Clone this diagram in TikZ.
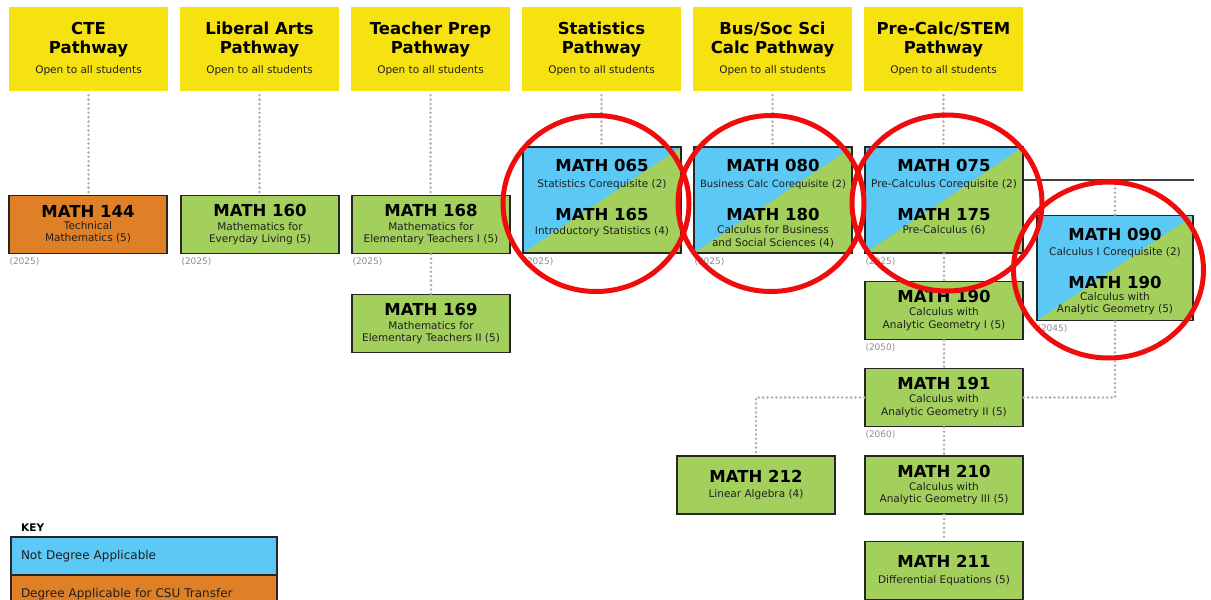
\documentclass[tikz,border=0pt]{standalone}
\usepackage{fontspec}
\setmainfont{DejaVu Sans}

\definecolor{pathyellow}{RGB}{246,226,17}
\definecolor{crsgreen}{RGB}{163,207,92}
\definecolor{crsblue}{RGB}{91,200,245}
\definecolor{crsorange}{RGB}{224,128,38}
\definecolor{linkgray}{RGB}{175,175,175}
\definecolor{ringred}{RGB}{240,12,12}

\newcommand{\ctitle}{\fontsize{16.5}{18}\selectfont\bfseries\color{black}}
\newcommand{\htitle}{\fontsize{16.5}{18}\selectfont\bfseries\color{black}}

\begin{document}
\begin{tikzpicture}[x=1pt, y=-1pt,
    every node/.style={font=\fontsize{10.5}{12.5}\selectfont, text=black!88},
    hd/.style={fill=pathyellow, minimum width=159pt, minimum height=84pt,
               align=center, inner sep=0pt, font=\fontsize{10.5}{18.7}\selectfont},
    crs/.style={draw=black!85, line width=1.4pt, fill=crsgreen, minimum width=158pt,
                minimum height=58pt, align=center, inner sep=0pt},
    tcrs/.style={crs, fill=crsorange},
    sp/.style={crs, minimum height=106pt,
               path picture={\fill[crsblue] (path picture bounding box.north west)
                 -- (path picture bounding box.north east)
                 -- (path picture bounding box.south west) -- cycle;}},
    sptxt/.style={align=center, anchor=north, inner sep=0pt},
    yr/.style={font=\fontsize{9}{10}\selectfont, text=black!45, anchor=north west, inner sep=0pt},
    lnk/.style={draw=linkgray, line width=2.8pt, line cap=round, dash pattern=on 0pt off 4.4pt},
    bar/.style={draw=black!75, line width=1.6pt},
    keyrow/.style={draw=black!85, line width=1.4pt, minimum height=38pt, text width=246pt,
                   inner xsep=10pt, inner ysep=0pt, align=left, font=\fontsize{12}{14}\selectfont},
    ring/.style={draw=ringred, line width=5pt},
  ]
  \useasboundingbox (0,0) rectangle (1211,600);

  % pathway headers
  \node[hd] (cte)  at (88.5, 49)  {{\htitle CTE}\\{\htitle Pathway}\\[2pt]Open to all students};
  \node[hd] (lib)  at (259.5, 49) {{\htitle Liberal Arts}\\{\htitle Pathway}\\[2pt]Open to all students};
  \node[hd] (tch)  at (430.5, 49) {{\htitle Teacher Prep}\\{\htitle Pathway}\\[2pt]Open to all students};
  \node[hd] (sta)  at (601.5, 49) {{\htitle Statistics}\\{\htitle Pathway}\\[2pt]Open to all students};
  \node[hd] (bus)  at (772.5, 49) {{\htitle Bus/Soc Sci}\\{\htitle Calc Pathway}\\[2pt]Open to all students};
  \node[hd] (stem) at (943.5, 49) {{\htitle Pre-Calc/STEM}\\{\htitle Pathway}\\[2pt]Open to all students};

  % courses
  \node[tcrs] (m144) at (88, 224.5)  {{\ctitle MATH 144}\\[-1pt]Technical\\Mathematics (5)};
  \node[crs]  (m160) at (260, 224.5) {{\ctitle MATH 160}\\[1.5pt]Mathematics for\\Everyday Living (5)};
  \node[crs]  (m168) at (431, 224.5) {{\ctitle MATH 168}\\[1.5pt]Mathematics for\\Elementary Teachers I (5)};
  \node[crs]  (m169) at (431, 323.5) {{\ctitle MATH 169}\\[1.5pt]Mathematics for\\Elementary Teachers II (5)};
  \node[crs]  (m190) at (944, 310.5) {{\ctitle MATH 190}\\[0.5pt]Calculus with\\Analytic Geometry I (5)};
  \node[crs]  (m191) at (944, 397.5) {{\ctitle MATH 191}\\[0.5pt]Calculus with\\Analytic Geometry II (5)};
  \node[crs]  (m212) at (756, 485)   {{\ctitle MATH 212}\\[3pt]Linear Algebra (4)};
  \node[crs]  (m210) at (944, 485)   {{\ctitle MATH 210}\\[0.5pt]Calculus with\\Analytic Geometry III (5)};
  \node[crs]  (m211) at (944, 570.5) {{\ctitle MATH 211}\\[3pt]Differential Equations (5)};

  % corequisite pairs
  \node[sp] (m065) at (602, 200) {};
  \node[sp] (m080) at (773, 200) {};
  \node[sp] (m075) at (944, 200) {};
  \node[sp, minimum width=156pt, minimum height=105pt] (m090) at (1115, 268) {};
  \node[sptxt] (t065) at ([yshift=-13pt]m065.north)
        {{\ctitle MATH 065}\\[3pt]Statistics Corequisite (2)\\[18pt]{\ctitle MATH 165}\\[1pt]Introductory Statistics (4)};
  \node[sptxt] (t080) at ([yshift=-13pt]m080.north)
        {{\ctitle MATH 080}\\[3pt]{\fontsize{10}{12.5}\selectfont Business Calc Corequisite (2)}\\[18pt]{\ctitle MATH 180}\\[0.5pt]Calculus for Business\\and Social Sciences (4)};
  \node[sptxt] (t075) at ([yshift=-13pt]m075.north)
        {{\ctitle MATH 075}\\[3pt]Pre-Calculus Corequisite (2)\\[18pt]{\ctitle MATH 175}\\[1pt]Pre-Calculus (6)};
  \node[sptxt] (t090) at ([yshift=-13pt]m090.north)
        {{\ctitle MATH 090}\\[3pt]Calculus I Corequisite (2)\\[17pt]{\ctitle MATH 190}\\[0pt]Calculus with\\[-1pt]Analytic Geometry (5)};

  % year labels
  \node[yr] (y144) at ([xshift=1pt, yshift=-3.5pt]m144.south west) {(2025)};
  \node[yr] (y160) at ([xshift=1pt, yshift=-3.5pt]m160.south west) {(2025)};
  \node[yr] (y168) at ([xshift=1pt, yshift=-3.5pt]m168.south west) {(2025)};
  \node[yr] (y065) at ([xshift=1pt, yshift=-3.5pt]m065.south west) {(2025)};
  \node[yr] (y080) at ([xshift=1pt, yshift=-3.5pt]m080.south west) {(2025)};
  \node[yr] (y075) at ([xshift=1pt, yshift=-3.5pt]m075.south west) {(2025)};
  \node[yr] (y090) at ([xshift=1pt, yshift=-3.5pt]m090.south west) {(2045)};
  \node[yr] (y190) at ([xshift=1pt, yshift=-3.5pt]m190.south west) {(2050)};
  \node[yr] (y191) at ([xshift=1pt, yshift=-3.5pt]m191.south west) {(2060)};

  % dotted links
  \draw[lnk] ([yshift=-4pt]cte.south)  -- (cte.south |- m144.north);
  \draw[lnk] ([yshift=-4pt]lib.south)  -- (lib.south |- m160.north);
  \draw[lnk] ([yshift=-4pt]tch.south)  -- (tch.south |- m168.north);
  \draw[lnk] ([yshift=-4pt]sta.south)  -- (sta.south |- m065.north);
  \draw[lnk] ([yshift=-4pt]bus.south)  -- (bus.south |- m080.north);
  \draw[lnk] ([yshift=-4pt]stem.south) -- (stem.south |- m075.north);
  \draw[lnk] (m168) -- (m169);
  \draw[lnk] (m075) -- (m190);
  \draw[lnk] (m190) -- (m191);
  \draw[lnk] (m191) -- (m210);
  \draw[lnk] (m210) -- (m211);
  \draw[lnk] (m191.west) -| (m212.north);
  \draw[lnk] (m191.east) -| (m090.south);
  \coordinate (jn) at (1115, 180);
  \draw[bar] (m075.east |- jn) -- (m090.east |- jn);
  \draw[lnk] ([yshift=-4pt]jn) -- (m090.north);

  % key
  \node[font=\fontsize{10.5}{12}\selectfont\bfseries, text=black, anchor=west, inner sep=0pt] (keyhd) at (21, 527.5) {KEY};
  \node[keyrow, fill=crsblue]   (keyna)  at (144, 556) {Not Degree Applicable};
  \node[keyrow, fill=crsorange] (keycsu) at (144, 594) {Degree Applicable for CSU Transfer};

  % red rings
  \draw[ring] (596, 203.5) ellipse (93pt and 88pt);
  \draw[ring] (771, 203.5) ellipse (93pt and 88pt);
  \draw[ring] (947, 203)   ellipse (95pt and 88pt);
  \draw[ring] (1108.5, 270) ellipse (95pt and 88pt);
\end{tikzpicture}
\end{document}
